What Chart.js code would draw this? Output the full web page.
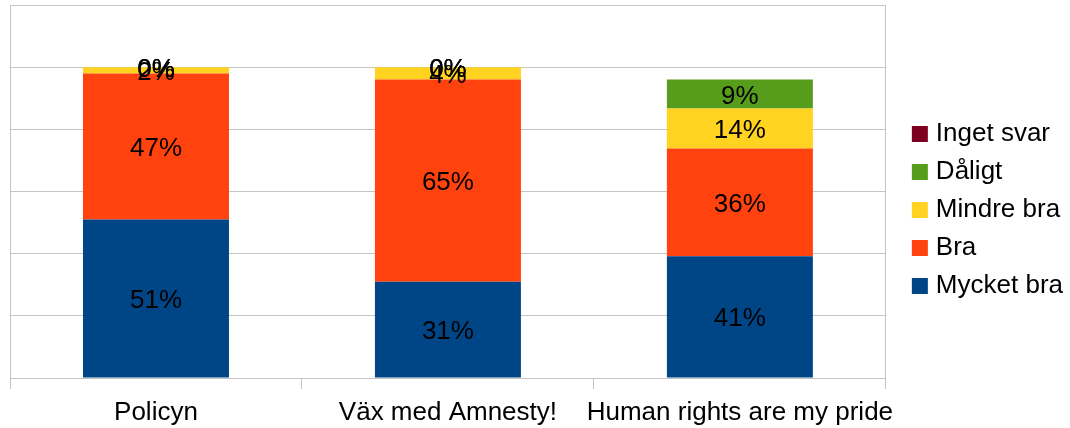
<!DOCTYPE html>
<html>
<head>
<meta charset="utf-8">
<script src="https://cdn.jsdelivr.net/npm/chart.js@4/dist/chart.umd.min.js"></script>
<style>
  html, body { margin: 0; padding: 0; background: #fff; }
  #wrap { width: 1070px; height: 428px; }
</style>
</head>
<body>
<div id="wrap"><canvas id="c" width="1070" height="428"></canvas></div>
<script>
// Categories
const categories = ["Policyn", "Väx med Amnesty!", "Human rights are my pride"];

// Bar heights (percent)
const mycketBra = [51, 31, 39.2];
const bra       = [47, 65, 34.6];
const mindreBra = [2, 4, 12.9];
const daligt    = [0, 0, 9.3];
const ingetSvar = [0, 0, null];

// Printed percentage labels
const mycketBraLabels = [51, 31, 41];
const braLabels       = [47, 65, 36];
const mindreBraLabels = [2, 4, 14];
const daligtLabels    = [0, 0, 9];
const ingetSvarLabels = [0, 0, null];

// Y axis range
const yMin = 0, yMax = 120, yStep = 20;

const FONT = "'Liberation Sans', Arial, sans-serif";
const GRID = "#c4c4c4";

const labelPlugin = {
  id: 'segLabels',
  afterDatasetsDraw(chart) {
    const ctx = chart.ctx;
    ctx.save();
    ctx.font = "26px " + FONT;
    ctx.fillStyle = "#000";
    ctx.textAlign = "center";
    ctx.textBaseline = "middle";
    chart.data.datasets.forEach((ds, di) => {
      const meta = chart.getDatasetMeta(di);
      if (meta.hidden) return;
      meta.data.forEach((el, i) => {
        const lbl = ds.printed[i];
        if (lbl === null || lbl === undefined || ds.data[i] === null) return;
        const p = el.getProps(['x', 'y', 'base'], true);
        ctx.fillText(lbl + "%", p.x, (p.y + p.base) / 2 + 2.5);
      });
    });
    ctx.restore();
  }
};

new Chart(document.getElementById('c'), {
  type: 'bar',
  data: {
    labels: categories,
    datasets: [
      { label: "Mycket bra", data: mycketBra, printed: mycketBraLabels, backgroundColor: "#004586" },
      { label: "Bra",        data: bra,       printed: braLabels,       backgroundColor: "#ff420e" },
      { label: "Mindre bra", data: mindreBra, printed: mindreBraLabels, backgroundColor: "#ffd320" },
      { label: "Dåligt",     data: daligt,    printed: daligtLabels,    backgroundColor: "#579d1c" },
      { label: "Inget svar", data: ingetSvar, printed: ingetSvarLabels, backgroundColor: "#7e0021" }
    ]
  },
  options: {
    responsive: false,
    animation: false,
    devicePixelRatio: 1,
    layout: { padding: { left: 10, top: 5, right: -3, bottom: 0 } },
    datasets: { bar: { barPercentage: 0.5, categoryPercentage: 1.0, borderWidth: 0 } },
    scales: {
      x: {
        stacked: true,
        grid: {
          offset: true,
          drawTicks: true,
          tickLength: 11,
          tickColor: GRID,
          color: 'rgba(0,0,0,0)',
          lineWidth: 1
        },
        border: { display: true, color: GRID },
        ticks: { color: "#000", font: { family: FONT, size: 26, lineHeight: 1.2 }, padding: 8, maxRotation: 0, autoSkip: false },
        afterFit: (s) => { s.height = 50; }
      },
      y: {
        stacked: true,
        min: yMin, max: yMax,
        grid: { color: GRID, drawTicks: false, lineWidth: 1 },
        border: { display: true, color: GRID },
        ticks: { display: false, stepSize: yStep }
      },
      yR: {
        position: 'right',
        display: true,
        min: yMin, max: yMax,
        grid: { display: true, drawTicks: false, color: 'rgba(0,0,0,0)', drawOnChartArea: false },
        border: { display: true, color: GRID },
        ticks: { display: false },
        afterFit: (s) => { s.width = 19; }
      }
    },
    plugins: {
      legend: {
        position: 'right',
        fullSize: false,
        reverse: true,
        title: { display: true, text: '', font: { size: 13, lineHeight: 1 }, padding: { top: 24, bottom: 0 } },
        labels: {
          color: "#000",
          font: { family: FONT, size: 26 },
          usePointStyle: true,
          pointStyle: 'rect',
          boxWidth: 6, boxHeight: 16,
          padding: 12
        }
      },
      tooltip: { enabled: false }
    }
  },
  plugins: [labelPlugin]
});
</script>
</body>
</html>
